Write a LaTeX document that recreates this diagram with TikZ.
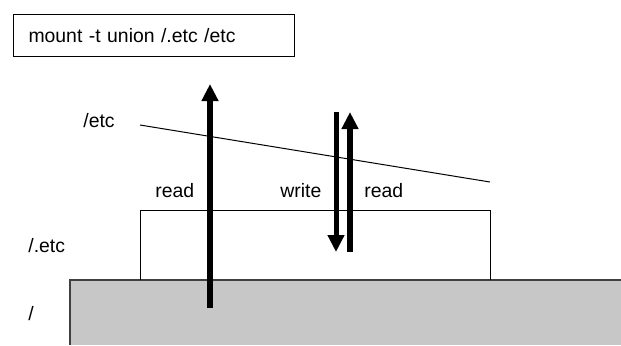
\documentclass[tikz,border=0pt]{standalone}
\usepackage{fontspec}
\setmainfont{Liberation Sans}
\usetikzlibrary{arrows.meta}

\begin{document}
\begin{tikzpicture}[x=0.5pt,y=-0.5pt,
		lbl/.style={anchor=base west,inner sep=0pt,font=\fontsize{9.7}{12}\selectfont},
		flow/.style={line width=3pt,-{Triangle[width=8pt,length=8.5pt]}}]
		\useasboundingbox (0,0) rectangle (621,345);
		
		% lower layer
		\fill[black!22] (70,280) rectangle (621,345);
		\draw[black!75,line width=0.6pt] (70,345) -- (70,280) -- (621,280);
		
		% upper layer
		\draw[line width=0.5pt] (140,280) -- (140,210) -- (490,210) -- (490,280);
		
		% mount point
		\coordinate (mntL) at (140,125);
		\coordinate (mntR) at (490,182);
		\draw[line width=0.5pt] (mntL) -- (mntR);
		
		\node[draw,line width=0.5pt,anchor=north west,minimum width=140.5pt,minimum height=21pt,
			inner xsep=7.5pt,text width=125.5pt,font=\fontsize{9.7}{12}\selectfont] (cmd) at (13,14) {mount -t union /.etc /etc};
		
		\node[lbl] (etc) at (83,127) {/etc};
		\node[lbl] (dotetc) at (28,252) {/.etc};
		\node[lbl] (root) at (28,320) {/};
		\node[lbl] (rdlow) at (155,197) {read};
		\node[lbl] (wr) at (280,197) {write};
		\node[lbl] (rdup) at (364,197) {read};
		
		% flows
		\coordinate (rdlowS) at (210,308);
		\coordinate (rdlowE) at (210,84);
		\coordinate (wrS) at (336,112);
		\coordinate (wrE) at (336,252);
		\coordinate (rdupS) at (350,252);
		\coordinate (rdupE) at (350,112);
		\draw[flow] (rdlowS) -- (rdlowE);
		\draw[flow,line width=2.5pt] (wrS) -- (wrE);
		\draw[flow] (rdupS) -- (rdupE);
	\end{tikzpicture}
\end{document}
